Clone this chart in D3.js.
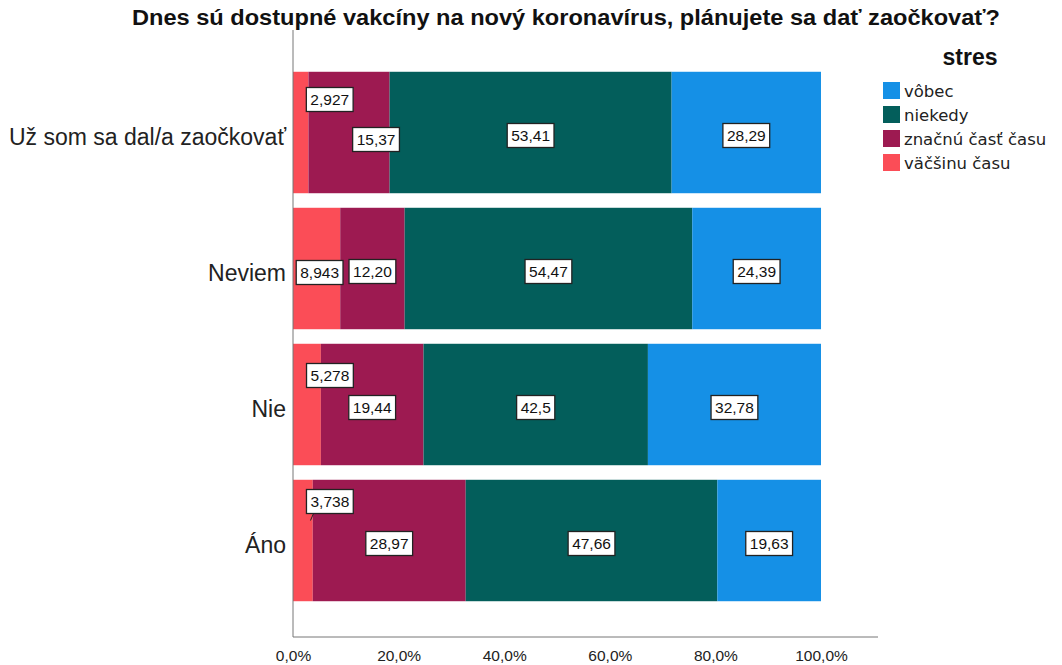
<!DOCTYPE html>
<html>
<head>
<meta charset="utf-8">
<script src="https://cdn.jsdelivr.net/npm/d3@7"></script>
<style>
  body { margin: 0; background: #fff; }
  text { font-family: "Liberation Sans", Arial, sans-serif; }
</style>
</head>
<body>
<svg id="chart" width="1062" height="665"></svg>
<script>
// odpovede na otázku o očkovaní
const categories = ['Už som sa dal/a zaočkovať', 'Neviem', 'Nie', 'Áno'];
// skupiny "stres" v poradí skladania zľava doprava
const groups = ['väčšinu času', 'značnú časť času', 'niekedy', 'vôbec'];
const legendOrder = ['vôbec', 'niekedy', 'značnú časť času', 'väčšinu času'];

const vacsinuCasu = [2.927, 8.943, 5.278, 3.738];
const znacnuCast = [15.37, 12.20, 19.44, 28.97];
const niekedy = [53.41, 54.47, 42.5, 47.66];
const vobec = [28.29, 24.39, 32.78, 19.63];

// popisky tak ako ich ukazuje SPSS
const labelsVacsinu = ['2,927', '8,943', '5,278', '3,738'];
const labelsZnacnu = ['15,37', '12,20', '19,44', '28,97'];
const labelsNiekedy = ['53,41', '54,47', '42,5', '47,66'];
const labelsVobec = ['28,29', '24,39', '32,78', '19,63'];

const xTicks = [0, 20, 40, 60, 80, 100];

const colors = {
  'vôbec': '#1590e6',
  'niekedy': '#035e5b',
  'značnú časť času': '#9d1a51',
  'väčšinu času': '#fb4d57'
};

// posuny popiskov (SPSS ich odsúva pri malých segmentoch)
const nudge = {
  '0-0': [29, -33], '0-1': [27, 7],
  '1-0': [3, 4],
  '2-0': [23, -29],
  '3-0': [27, -39]
};

const svg = d3.select('#chart');
const margin = {top: 30, left: 293};
const axisY = 637;

const series = [vacsinuCasu, znacnuCast, niekedy, vobec];
const labelSets = [labelsVacsinu, labelsZnacnu, labelsNiekedy, labelsVobec];

const x = d3.scaleLinear([0, 100], [margin.left, 821]);
const y = d3.scaleBand(categories, [64.5, 608.5])
  .paddingInner(0.107)
  .paddingOuter(0.0535);

// skladanie
const rows = categories.map((c, i) => {
  const o = {cat: c};
  groups.forEach((g, j) => o[g] = series[j][i]);
  return o;
});
const stacked = d3.stack().keys(groups)(rows);

// titulok
svg.append('text')
  .attr('x', 132)
  .attr('y', 25)
  .attr('font-size', 22)
  .attr('font-weight', 'bold')
  .attr('fill', '#111')
  .attr('textLength', 868)
  .attr('lengthAdjust', 'spacingAndGlyphs')
  .text('Dnes sú dostupné vakcíny na nový koronavírus, plánujete sa dať zaočkovať?');

// pruhy
const barG = svg.append('g');
stacked.forEach(s => {
  barG.append('g')
    .attr('fill', colors[s.key])
    .selectAll('rect')
    .data(s)
    .join('rect')
      .attr('x', d => x(d[0]))
      .attr('y', d => y(d.data.cat))
      .attr('width', d => x(d[1]) - x(d[0]))
      .attr('height', y.bandwidth());
});

// osi
svg.append('line')
  .attr('x1', margin.left).attr('x2', margin.left)
  .attr('y1', margin.top).attr('y2', axisY)
  .attr('stroke', '#777');
svg.append('g')
  .attr('transform', `translate(0,${axisY})`)
  .call(d3.axisBottom(x).tickValues(xTicks).tickSize(0).tickPadding(13)
    .tickFormat(d => d3.format('.1f')(d).replace('.', ',') + '%'))
  .call(g => g.select('.domain').attr('d', `M${margin.left},0H878`).attr('stroke', '#777'))
  .call(g => g.selectAll('text').attr('font-size', 15.5).attr('fill', '#222')
    .style('font-family', '"Liberation Sans", Arial, sans-serif'));

svg.append('g')
  .selectAll('text')
  .data(categories)
  .join('text')
    .attr('x', 286)
    .attr('y', d => y(d) + y.bandwidth() / 2 + 4)
    .attr('dy', '0.35em')
    .attr('text-anchor', 'end')
    .attr('font-size', 23)
    .attr('fill', '#222')
    .text(d => d);

// popisky hodnôt
const lblG = svg.append('g');
stacked.forEach((s, j) => {
  s.forEach((d, i) => {
    const [dx, dy] = nudge[`${i}-${j}`] || [0, 3];
    const cx = (x(d[0]) + x(d[1])) / 2 + dx;
    const cy = y(d.data.cat) + y.bandwidth() / 2 + dy;
    const g = lblG.append('g').attr('transform', `translate(${cx},${cy})`);
    const t = g.append('text')
      .attr('text-anchor', 'middle')
      .attr('dy', '0.36em')
      .attr('font-size', 15.5)
      .attr('fill', '#111')
      .text(labelSets[j][i]);
    const w = t.node().getComputedTextLength() + 8;
    g.insert('rect', 'text')
      .attr('x', -w / 2).attr('y', -12)
      .attr('width', w).attr('height', 24)
      .attr('fill', '#fff')
      .attr('stroke', '#222')
      .attr('stroke-width', 1.3);
    // vodiaca čiara k malému segmentu
    if (`${i}-${j}` === '3-0') {
      g.append('line')
        .attr('x1', -w / 2 + 7).attr('y1', 12)
        .attr('x2', -w / 2 + 4).attr('y2', 19)
        .attr('stroke', '#222');
    }
  });
});

// legenda
svg.append('text')
  .attr('x', 970).attr('y', 65)
  .attr('text-anchor', 'middle')
  .attr('font-size', 23)
  .attr('font-weight', 'bold')
  .attr('fill', '#111')
  .text('stres');
const leg = svg.append('g')
  .selectAll('g')
  .data(legendOrder)
  .join('g')
    .attr('transform', (d, i) => `translate(883,${82 + i * 24})`);
leg.append('rect')
  .attr('width', 17).attr('height', 17)
  .attr('fill', d => colors[d]);
leg.append('text')
  .attr('x', 21).attr('y', 9)
  .attr('dy', '0.35em')
  .attr('font-size', 16.5)
  .style('font-family', '"DejaVu Sans", sans-serif')
  .attr('fill', '#222')
  .text(d => d);
</script>
</body>
</html>
